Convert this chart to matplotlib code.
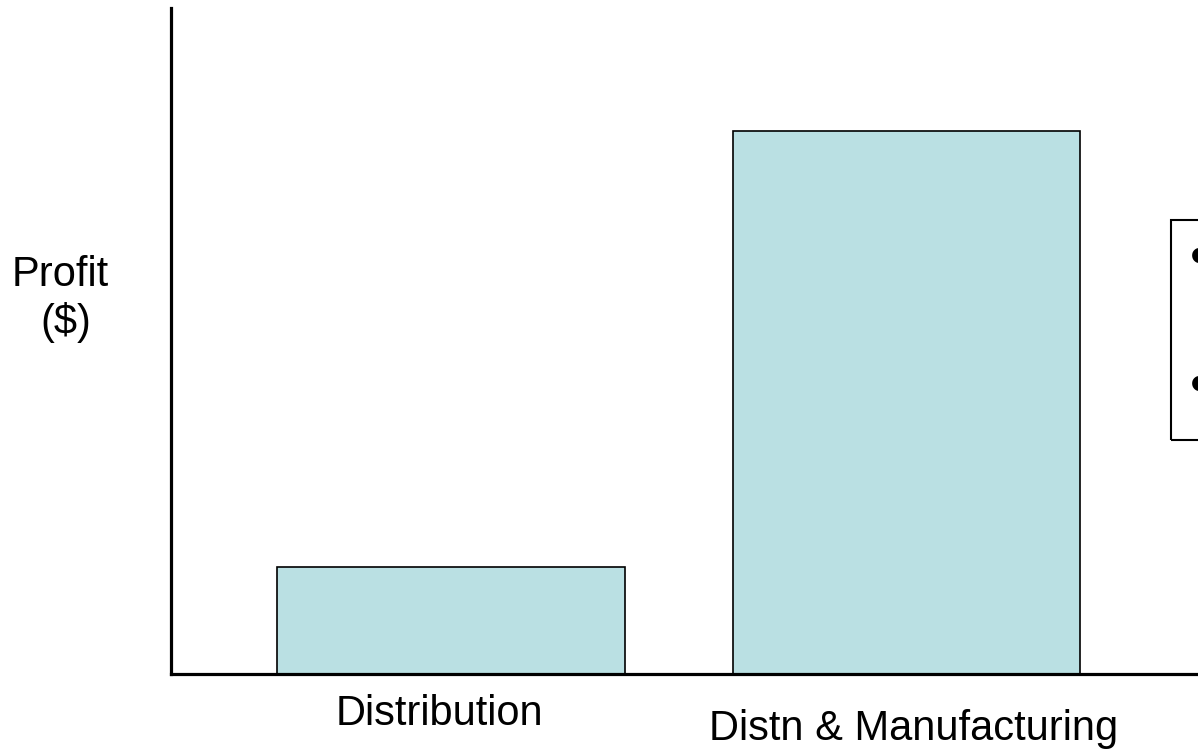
import matplotlib
matplotlib.use("Agg")
import matplotlib.pyplot as plt
from matplotlib.patches import Rectangle

plt.rcParams['font.family'] = ['Liberation Sans', 'DejaVu Sans']

# Profit by business model (arbitrary units, no scale shown)
categories = ["Distribution", "Distn & Manufacturing"]
profit = [2.0, 10.2]
bar_color = "#bae0e3"

W, H = 1198, 750
fig = plt.figure(figsize=(W / 100, H / 100), dpi=100)
ax = fig.add_axes([171 / W, 76 / H, 1 - 171 / W, 666 / H])

x = list(range(len(categories)))
ax.bar(x, profit, width=0.764, color=bar_color, edgecolor="black", linewidth=1.2)

ax.set_xlim(-0.615, 1.640)
ax.set_ylim(0, 12.5)
ax.set_xticks([])
ax.set_yticks([])
for side in ("top", "right"):
    ax.spines[side].set_visible(False)
for side in ("left", "bottom"):
    ax.spines[side].set_linewidth(2.3)

# category labels under the bars
label_dx = [-0.026, 0.015]
label_y = [-0.0766, -0.099]
for xi, name, dx, ly in zip(x, categories, label_dx, label_y):
    ax.text(xi + dx, ly, name, transform=ax.get_xaxis_transform(),
            ha="center", va="baseline", fontsize=30)

# y-axis caption
fig.text(60 / W, 1 - 286 / H, "Profit", ha="center", va="baseline", fontsize=30)
fig.text(66 / W, 1 - 334 / H, "($)", ha="center", va="baseline", fontsize=30)

# bullet box running off the right edge
fig.patches.append(Rectangle((1171 / W, 1 - 440 / H), 0.05, 220 / H,
                             transform=fig.transFigure, fill=False,
                             edgecolor="black", linewidth=1.5))
for by in (274, 402):
    fig.text(1199 / W, 1 - by / H, "\u2022", ha="center", va="baseline", fontsize=38)

fig.savefig("out.png", dpi=100)
